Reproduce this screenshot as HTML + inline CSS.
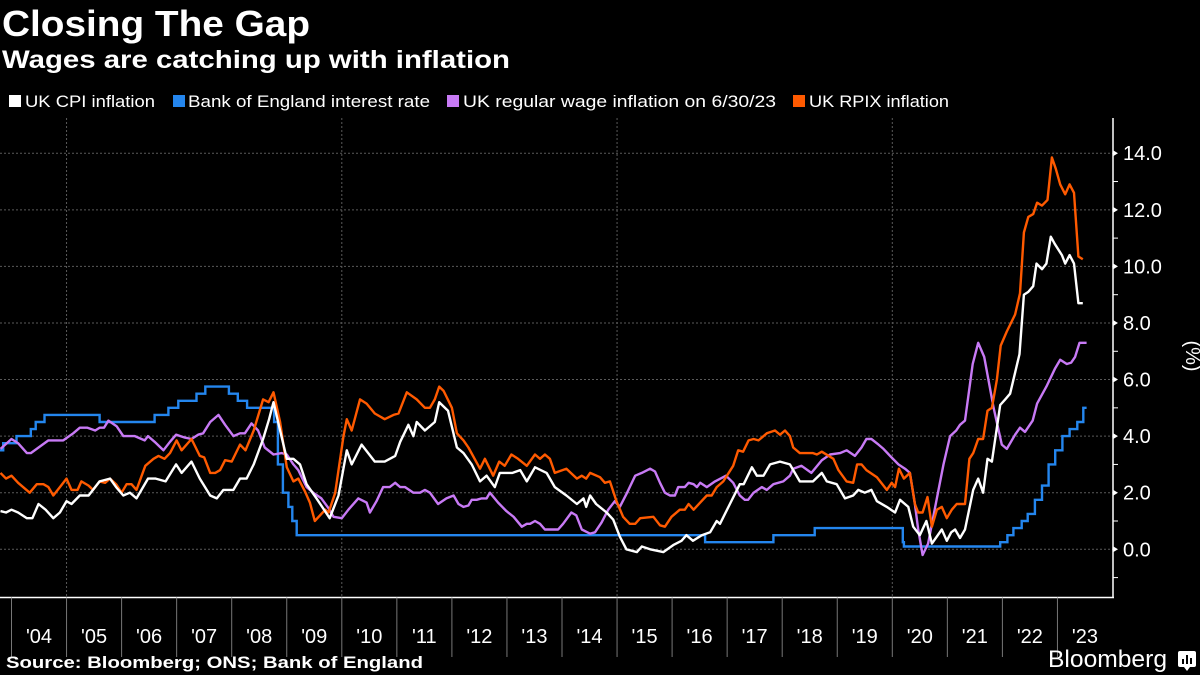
<!DOCTYPE html>
<html><head><meta charset="utf-8"><style>
html,body{margin:0;padding:0;background:#000;width:1200px;height:675px;overflow:hidden}
svg{display:block;font-family:"Liberation Sans",sans-serif}
</style></head><body>
<svg id="chart" width="1200" height="675" viewBox="0 0 1200 675" xmlns="http://www.w3.org/2000/svg">
<rect width="1200" height="675" fill="#000"/>
<text x="2" y="36" fill="#fff" font-weight="bold" font-size="36" textLength="308" lengthAdjust="spacingAndGlyphs">Closing The Gap</text>
<text x="2" y="68" fill="#fff" font-weight="bold" font-size="25" textLength="508" lengthAdjust="spacingAndGlyphs">Wages are catching up with inflation</text>
<g font-size="17" fill="#fff">
<g><rect x="9" y="95" width="12" height="12" fill="#fff"/><text x="25" y="107" textLength="130" lengthAdjust="spacingAndGlyphs">UK CPI inflation</text></g>
<g><rect x="173" y="95" width="12" height="12" fill="#2486ee"/><text x="188" y="107" textLength="242" lengthAdjust="spacingAndGlyphs">Bank of England interest rate</text></g>
<g><rect x="447" y="95" width="12" height="12" fill="#c87af5"/><text x="463" y="107" textLength="313" lengthAdjust="spacingAndGlyphs">UK regular wage inflation on 6/30/23</text></g>
<g><rect x="793" y="95" width="12" height="12" fill="#ff5a00"/><text x="809" y="107" textLength="140" lengthAdjust="spacingAndGlyphs">UK RPIX inflation</text></g>
</g>
<g id="grid"></g>
<g id="yaxis"></g>
<g id="xaxis"></g>
<g id="series"></g>
<text x="1186" y="356" fill="#fff" font-size="20" text-anchor="middle" transform="rotate(90 1186 356)">(%)</text>
<text x="6" y="668" fill="#fff" font-weight="bold" font-size="17" textLength="417" lengthAdjust="spacingAndGlyphs">Source: Bloomberg; ONS; Bank of England</text>
<text x="1048" y="667" fill="#fff" font-size="24" textLength="119" lengthAdjust="spacingAndGlyphs">Bloomberg</text>
<g><rect x="1178" y="651" width="18" height="16" rx="2" fill="#fff"/><path d="M1184 667 L1187 671 L1190 667Z" fill="#fff"/><rect x="1182" y="659" width="2" height="5" fill="#000"/><rect x="1186" y="655" width="2" height="9" fill="#000"/><rect x="1190" y="658" width="2" height="6" fill="#000"/></g>
</svg>
<script>
const yTicks=[0,2,4,6,8,10,12,14];
const yTickLabels=["0.0","2.0","4.0","6.0","8.0","10.0","12.0","14.0"];
const years=["'04","'05","'06","'07","'08","'09","'10","'11","'12","'13","'14","'15","'16","'17","'18","'19","'20","'21","'22","'23"];
const cpiDates=[2003.8,2003.9,2004.0,2004.12,2004.28,2004.38,2004.49,2004.62,2004.76,2004.88,2005.0,2005.09,2005.24,2005.4,2005.6,2005.79,2005.9,2006.03,2006.15,2006.27,2006.48,2006.62,2006.8,2006.99,2007.09,2007.27,2007.42,2007.61,2007.73,2007.85,2008.03,2008.15,2008.27,2008.4,2008.57,2008.68,2008.76,2008.88,2009.0,2009.12,2009.24,2009.36,2009.54,2009.78,2009.94,2010.09,2010.18,2010.36,2010.6,2010.78,2010.97,2011.06,2011.21,2011.3,2011.36,2011.51,2011.69,2011.77,2011.93,2012.09,2012.21,2012.36,2012.51,2012.63,2012.78,2012.87,2013.1,2013.24,2013.36,2013.51,2013.72,2013.87,2014.08,2014.27,2014.39,2014.44,2014.51,2014.62,2014.81,2014.93,2015.05,2015.17,2015.36,2015.45,2015.6,2015.84,2016.02,2016.17,2016.26,2016.38,2016.54,2016.69,2016.81,2016.87,2017.05,2017.23,2017.3,2017.45,2017.54,2017.66,2017.78,2017.96,2018.14,2018.32,2018.56,2018.72,2018.81,2018.99,2019.14,2019.29,2019.38,2019.5,2019.62,2019.72,2019.9,2020.05,2020.14,2020.29,2020.38,2020.5,2020.62,2020.72,2020.9,2020.99,2021.07,2021.14,2021.23,2021.32,2021.47,2021.56,2021.65,2021.73,2021.81,2021.96,2022.05,2022.14,2022.31,2022.39,2022.47,2022.56,2022.62,2022.72,2022.8,2022.88,2022.95,2023.08,2023.14,2023.22,2023.3,2023.38,2023.46];
const cpiValues=[1.35,1.3,1.4,1.3,1.1,1.1,1.6,1.4,1.1,1.3,1.7,1.6,1.9,1.9,2.4,2.5,2.2,1.9,2.0,1.8,2.5,2.5,2.4,3.0,2.7,3.1,2.5,1.9,1.8,2.1,2.1,2.5,2.5,3.0,3.9,4.6,5.2,4.2,3.2,3.2,3.0,2.3,1.8,1.1,1.9,3.5,3.0,3.7,3.1,3.1,3.3,3.8,4.4,4.0,4.5,4.2,4.5,5.2,4.9,3.6,3.4,3.0,2.4,2.6,2.2,2.7,2.7,2.8,2.4,2.9,2.7,2.2,1.9,1.6,1.8,1.5,1.9,1.6,1.3,1.05,0.45,0.0,-0.1,0.1,0.0,-0.1,0.15,0.3,0.5,0.3,0.5,0.6,1.0,0.9,1.6,2.3,2.3,2.9,2.6,2.6,3.0,3.1,3.0,2.4,2.4,2.7,2.4,2.3,1.8,1.9,2.1,2.0,2.1,1.7,1.5,1.3,1.75,1.5,0.8,0.5,1.0,0.2,0.7,0.3,0.6,0.7,0.4,0.7,2.1,2.5,2.0,3.2,3.1,5.1,5.3,5.5,6.9,9.0,9.1,9.3,10.1,9.9,10.1,11.05,10.8,10.4,10.1,10.4,10.1,8.7,8.7];
const rpixDates=[2003.8,2003.9,2004.0,2004.12,2004.33,2004.46,2004.58,2004.67,2004.76,2004.88,2005.0,2005.09,2005.2,2005.27,2005.4,2005.48,2005.6,2005.7,2005.79,2005.9,2006.0,2006.09,2006.18,2006.27,2006.43,2006.58,2006.67,2006.78,2006.88,2007.0,2007.09,2007.27,2007.42,2007.5,2007.61,2007.7,2007.79,2007.88,2008.0,2008.15,2008.25,2008.4,2008.57,2008.67,2008.76,2008.88,2009.0,2009.12,2009.21,2009.33,2009.42,2009.51,2009.7,2009.76,2009.88,2010.03,2010.09,2010.18,2010.33,2010.45,2010.6,2010.78,2010.94,2011.03,2011.18,2011.36,2011.51,2011.6,2011.69,2011.77,2011.85,2012.0,2012.09,2012.21,2012.3,2012.51,2012.6,2012.75,2012.86,2012.96,2013.08,2013.2,2013.36,2013.51,2013.6,2013.69,2013.78,2013.87,2014.08,2014.27,2014.36,2014.44,2014.51,2014.69,2014.78,2014.87,2014.99,2015.11,2015.23,2015.33,2015.42,2015.66,2015.78,2015.87,2015.99,2016.14,2016.23,2016.3,2016.39,2016.51,2016.63,2016.72,2016.81,2016.93,2017.11,2017.2,2017.29,2017.39,2017.48,2017.57,2017.72,2017.87,2017.96,2018.05,2018.14,2018.2,2018.32,2018.56,2018.63,2018.72,2018.93,2019.02,2019.17,2019.29,2019.36,2019.44,2019.53,2019.72,2019.9,2019.99,2020.05,2020.12,2020.21,2020.32,2020.41,2020.47,2020.55,2020.64,2020.72,2020.81,2020.9,2020.99,2021.08,2021.17,2021.32,2021.4,2021.47,2021.56,2021.65,2021.73,2021.81,2021.9,2021.97,2022.08,2022.23,2022.32,2022.39,2022.47,2022.56,2022.63,2022.72,2022.82,2022.9,2022.97,2023.05,2023.14,2023.22,2023.3,2023.38,2023.46];
const rpixValues=[2.7,2.5,2.6,2.35,2.0,2.3,2.3,2.2,1.9,2.2,2.5,2.1,2.1,2.4,2.25,2.1,2.4,2.35,2.5,2.3,2.0,2.3,2.3,2.1,2.95,3.2,3.3,3.2,3.4,3.85,3.5,3.9,3.3,3.25,2.7,2.7,2.8,3.15,3.1,3.7,3.5,4.2,5.3,5.2,5.55,4.5,2.9,2.4,2.5,2.05,1.65,1.0,1.4,1.3,2.0,4.0,4.6,4.2,5.3,5.15,4.8,4.6,4.75,4.8,5.55,5.3,5.0,5.0,5.3,5.75,5.6,5.0,4.1,3.85,3.6,2.85,3.2,2.6,3.1,2.95,3.35,3.2,2.95,3.35,3.2,3.35,3.2,2.7,2.85,2.5,2.6,2.5,2.7,2.55,2.35,2.4,1.7,1.15,0.9,0.9,1.1,1.15,0.85,0.8,1.15,1.4,1.4,1.6,1.4,1.65,1.9,1.9,2.2,2.4,2.95,3.5,3.45,3.85,3.9,3.85,4.1,4.2,4.05,4.2,4.0,3.6,3.4,3.4,3.35,3.45,3.2,2.8,2.4,2.35,3.0,3.0,2.8,2.55,2.1,2.35,2.2,2.85,2.5,2.7,1.6,1.3,1.3,1.85,0.8,1.4,1.5,1.1,1.4,1.6,1.6,3.2,3.4,3.9,3.9,4.9,5.0,6.0,7.2,7.7,8.3,9.05,11.2,11.75,11.85,12.25,12.15,12.35,13.85,13.45,12.9,12.55,12.9,12.6,10.35,10.25];
const wageDates=[2003.8,2004.0,2004.12,2004.28,2004.35,2004.67,2004.94,2005.12,2005.24,2005.38,2005.52,2005.6,2005.68,2005.76,2005.91,2006.03,2006.24,2006.42,2006.48,2006.6,2006.76,2006.88,2006.99,2007.15,2007.27,2007.39,2007.48,2007.61,2007.76,2007.88,2008.03,2008.15,2008.24,2008.36,2008.48,2008.6,2008.76,2008.91,2009.0,2009.12,2009.21,2009.36,2009.48,2009.63,2009.76,2009.85,2010.0,2010.12,2010.3,2010.45,2010.51,2010.63,2010.75,2010.87,2010.97,2011.06,2011.15,2011.3,2011.42,2011.51,2011.6,2011.75,2011.9,2012.03,2012.12,2012.21,2012.3,2012.36,2012.45,2012.54,2012.63,2012.69,2012.84,2012.99,2013.12,2013.27,2013.36,2013.42,2013.51,2013.6,2013.69,2013.93,2014.02,2014.17,2014.26,2014.36,2014.51,2014.6,2014.72,2014.84,2014.96,2015.05,2015.17,2015.33,2015.45,2015.6,2015.69,2015.78,2015.87,2015.96,2016.05,2016.11,2016.23,2016.3,2016.39,2016.45,2016.51,2016.63,2016.78,2016.98,2017.11,2017.23,2017.32,2017.38,2017.48,2017.63,2017.72,2017.84,2018.02,2018.14,2018.2,2018.35,2018.53,2018.72,2018.87,2019.05,2019.17,2019.32,2019.44,2019.53,2019.62,2019.75,2019.84,2019.96,2020.11,2020.23,2020.32,2020.41,2020.47,2020.55,2020.65,2020.78,2020.93,2021.05,2021.16,2021.23,2021.32,2021.46,2021.56,2021.67,2021.84,2021.99,2022.08,2022.23,2022.32,2022.41,2022.55,2022.63,2022.8,2022.96,2023.05,2023.17,2023.25,2023.32,2023.4,2023.53];
const wageValues=[3.55,3.9,3.75,3.4,3.4,3.85,3.85,4.1,4.3,4.3,4.2,4.3,4.3,4.55,4.35,4.0,4.0,3.85,4.0,3.8,3.5,3.8,4.05,3.95,3.9,4.05,4.1,4.5,4.75,4.4,4.0,4.1,4.1,4.45,4.2,3.6,3.35,3.4,3.35,3.0,2.8,2.2,2.0,1.8,1.45,1.15,1.1,1.4,1.8,1.65,1.3,1.7,2.2,2.2,2.35,2.2,2.2,2.0,2.0,2.1,2.0,1.6,1.8,1.9,1.6,1.5,1.55,1.75,1.75,1.8,1.8,2.0,1.65,1.35,1.15,0.8,0.9,0.9,1.0,0.9,0.7,0.7,0.9,1.3,1.2,0.7,0.55,0.6,0.95,1.4,1.7,1.5,1.95,2.6,2.7,2.85,2.75,2.35,2.0,1.9,1.9,2.2,2.2,2.35,2.3,2.2,2.35,2.2,2.4,2.6,2.35,1.9,1.75,1.75,2.0,2.2,2.1,2.3,2.4,2.6,2.85,2.95,2.7,3.15,3.35,3.4,3.5,3.3,3.6,3.9,3.9,3.7,3.55,3.3,3.0,2.85,2.7,1.6,0.7,-0.2,0.2,1.5,3.0,4.0,4.2,4.4,4.55,6.55,7.3,6.8,5.0,3.7,3.55,4.05,4.3,4.15,4.55,5.15,5.75,6.4,6.7,6.55,6.6,6.8,7.3,7.3];
const rateDates=[2003.75,2003.85,2004.09,2004.35,2004.44,2004.6,2005.6,2006.6,2006.85,2007.03,2007.36,2007.52,2007.95,2008.11,2008.28,2008.77,2008.84,2008.93,2009.03,2009.1,2009.18,2016.6,2017.84,2018.59,2020.19,2020.21,2021.96,2022.09,2022.2,2022.35,2022.46,2022.59,2022.72,2022.84,2022.96,2023.09,2023.22,2023.36,2023.47];
const rateValues=[3.5,3.75,4.0,4.25,4.5,4.75,4.5,4.75,5.0,5.25,5.5,5.75,5.5,5.25,5.0,4.5,3.0,2.0,1.5,1.0,0.5,0.25,0.5,0.75,0.25,0.1,0.25,0.5,0.75,1.0,1.25,1.75,2.25,3.0,3.5,4.0,4.25,4.5,5.0];
const rateEnd=2023.53;

const NS="http://www.w3.org/2000/svg";
const xOf=t=>11.5+(t-2004)*55.05;
const yOf=v=>549.3-v*28.29;
const PR=1113, PB=597.5, PT=118;
function mk(tag,attrs,parent){const e=document.createElementNS(NS,tag);for(const k in attrs)e.setAttribute(k,attrs[k]);parent.appendChild(e);return e;}
const grid=document.getElementById('grid'),ya=document.getElementById('yaxis'),xa=document.getElementById('xaxis'),ser=document.getElementById('series');
yTicks.forEach((v,i)=>{
  const g=mk('line',{x1:0,x2:PR,y1:yOf(v),y2:yOf(v),stroke:'#5a5a5a','stroke-width':1,'stroke-dasharray':'2,2'},grid);
  
  
  const tk=mk('path',{d:`M${PR} ${yOf(v)-3} L${PR+5} ${yOf(v)} L${PR} ${yOf(v)+3}Z`,fill:'#fff'},ya);
  
  
  const t=mk('text',{x:PR+10,y:yOf(v)+7,fill:'#fff','font-size':20},ya);
  
  
  t.textContent=yTickLabels[i];
  if(v<14){const m=mk('line',{x1:PR,x2:PR+5,y1:yOf(v+1),y2:yOf(v+1),stroke:'#fff','stroke-width':1},ya);
  
  }
});
const mm=mk('line',{x1:PR,x2:PR+5,y1:yOf(-1),y2:yOf(-1),stroke:'#fff','stroke-width':1},ya);


[2005,2010,2015,2020].forEach(yr=>{
  const l=mk('line',{x1:xOf(yr),x2:xOf(yr),y1:PT,y2:PB,stroke:'#5a5a5a','stroke-width':1,'stroke-dasharray':'2,2'},grid);
  
  
});
const yl=mk('line',{x1:PR,x2:PR,y1:PT,y2:PB,stroke:'#fff','stroke-width':1.5},ya);


const xl=mk('line',{x1:0,x2:PR+1,y1:PB,y2:PB,stroke:'#fff','stroke-width':1.5},xa);


years.forEach((lab,i)=>{
  const x0=xOf(2004+i);
  const s=mk('line',{x1:x0,x2:x0,y1:PB,y2:657,stroke:'#777','stroke-width':1},xa);
  
  
  const t=mk('text',{x:x0+27.5,y:643,fill:'#fff','font-size':20,'text-anchor':'middle'},xa);
  
  
  t.textContent=lab;
});
function line(dates,vals,color,name){
  const d=dates.map((t,i)=>(i?'L':'M')+xOf(t).toFixed(1)+' '+yOf(vals[i]).toFixed(1)).join(' ');
  const p=mk('path',{d:d,fill:'none',stroke:color,'stroke-width':2.4,'stroke-linejoin':'round'},ser);
  
  
}
let rd='';
rateDates.forEach((t,i)=>{const nx=i<rateDates.length-1?rateDates[i+1]:rateEnd;rd+=(i?'L':'M')+xOf(t).toFixed(1)+' '+yOf(rateValues[i]).toFixed(1)+' L'+xOf(nx).toFixed(1)+' '+yOf(rateValues[i]).toFixed(1)+' ';});
const rp=mk('path',{d:rd,fill:'none',stroke:'#2486ee','stroke-width':2.4},ser);


line(wageDates,wageValues,'#c87af5','wage-inflation-line');
line(rpixDates,rpixValues,'#ff5a00','rpix-inflation-line');
line(cpiDates,cpiValues,'#ffffff','cpi-inflation-line');
</script>
</body></html>
